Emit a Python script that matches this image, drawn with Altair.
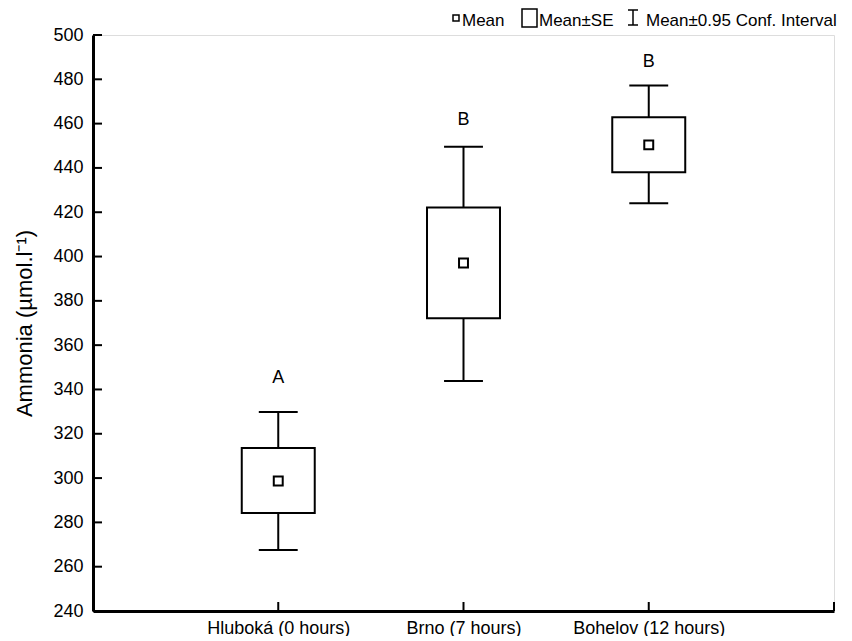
import altair as alt
import pandas as pd

# ---- data ----
sites = ["Hluboká (0 hours)", "Brno (7 hours)", "Bohelov (12 hours)"]
site_pos = [1, 2, 3]
means = [298.7, 397.1, 450.4]
se_low = [284.2, 372.1, 438.1]
se_high = [313.6, 422.1, 462.9]
ci_low = [267.5, 343.8, 424.1]
ci_high = [329.8, 449.6, 477.2]
letters = ["A", "B", "B"]
letter_y = [345.2, 461.7, 487.9]

x_ticks = [1, 2, 3, 4]
y_ticks = [240, 260, 280, 300, 320, 340, 360, 380, 400, 420, 440, 460, 480, 500]

W, H = 741, 576
FONT = "Liberation Sans"
BOX_HALF = 0.197
CAP_HALF = 0.105

df = pd.DataFrame({
    "site": sites, "pos": site_pos, "mean": means,
    "se_low": se_low, "se_high": se_high,
    "ci_low": ci_low, "ci_high": ci_high,
    "letter": letters, "letter_y": letter_y,
})

label_expr = " : ".join(
    f"datum.value == {p} ? '{s}'" for p, s in zip(site_pos, sites)
) + " : ''"

xscale = alt.Scale(domain=[0, 4], nice=False, zero=False)
yscale = alt.Scale(domain=[240, 500], nice=False, zero=False)

x_axis = alt.Axis(values=site_pos, labelExpr=label_expr, title=None, grid=False,
                  ticks=False, domainWidth=3, domainColor="black",
                  labelFont=FONT, labelFontSize=18, labelColor="black",
                  labelPadding=8)
y_axis = alt.Axis(values=y_ticks, title="Ammonia (µmol.l⁻¹)", grid=False,
                  ticks=False, domainWidth=3, domainColor="black",
                  labelFont=FONT, labelFontSize=18, labelColor="black",
                  labelPadding=10, titleFont=FONT, titleFontSize=22,
                  titleFontWeight="normal", titleColor="black", titlePadding=16)

base = alt.Chart(df)

whisker = base.mark_rule(color="black", strokeWidth=2).encode(
    x=alt.X("pos:Q", scale=xscale, axis=x_axis),
    y=alt.Y("ci_low:Q", scale=yscale, axis=y_axis),
    y2="ci_high:Q",
)

caps_hi = base.transform_calculate(
    xa=f"datum.pos - {CAP_HALF}", xb=f"datum.pos + {CAP_HALF}"
).mark_rule(color="black", strokeWidth=2).encode(
    x=alt.X("xa:Q", scale=xscale), x2="xb:Q", y=alt.Y("ci_high:Q", scale=yscale)
)
caps_lo = base.transform_calculate(
    xa=f"datum.pos - {CAP_HALF}", xb=f"datum.pos + {CAP_HALF}"
).mark_rule(color="black", strokeWidth=2).encode(
    x=alt.X("xa:Q", scale=xscale), x2="xb:Q", y=alt.Y("ci_low:Q", scale=yscale)
)

boxes = base.transform_calculate(
    xa=f"datum.pos - {BOX_HALF}", xb=f"datum.pos + {BOX_HALF}"
).mark_rect(fill="white", stroke="black", strokeWidth=2).encode(
    x=alt.X("xa:Q", scale=xscale), x2="xb:Q",
    y=alt.Y("se_low:Q", scale=yscale), y2="se_high:Q",
)

mean_pts = base.mark_square(filled=False, color="black", strokeWidth=2, size=80, opacity=1).encode(
    x=alt.X("pos:Q", scale=xscale), y=alt.Y("mean:Q", scale=yscale)
)

letter_txt = base.mark_text(font=FONT, fontSize=18, color="black", baseline="middle").encode(
    x=alt.X("pos:Q", scale=xscale), y=alt.Y("letter_y:Q", scale=yscale), text="letter:N"
)

xt = alt.Chart(pd.DataFrame({"t": x_ticks})).mark_rule(color="black", strokeWidth=2).encode(
    x=alt.X("t:Q", scale=xscale), y=alt.value(H), y2=alt.value(H - 9)
)
yt = alt.Chart(pd.DataFrame({"t": y_ticks})).mark_rule(color="black", strokeWidth=2).encode(
    y=alt.Y("t:Q", scale=yscale), x=alt.value(0), x2=alt.value(9)
)

# ---- legend drawn at the top right ----
leg_df = pd.DataFrame({"k": [0]})
leg = alt.Chart(leg_df)
LFS = 17
leg_small = leg.mark_square(filled=False, color="black", strokeWidth=1.5, size=36, opacity=1).encode(
    x=alt.value(363), y=alt.value(-17))
leg_t1 = leg.mark_text(font=FONT, fontSize=LFS, align="left", baseline="alphabetic", color="black").encode(
    x=alt.value(369), y=alt.value(-9), text=alt.value("Mean"))
leg_rect = leg.mark_rect(fill="white", stroke="black", strokeWidth=1.5).encode(
    x=alt.value(429), x2=alt.value(444), y=alt.value(-26), y2=alt.value(-8))
leg_t2 = leg.mark_text(font=FONT, fontSize=LFS, align="left", baseline="alphabetic", color="black").encode(
    x=alt.value(446), y=alt.value(-9), text=alt.value("Mean±SE"))
leg_iv = leg.mark_rule(color="black", strokeWidth=1.5).encode(
    x=alt.value(540), y=alt.value(-25), y2=alt.value(-10))
leg_it = leg.mark_rule(color="black", strokeWidth=1.5).encode(
    x=alt.value(535), x2=alt.value(545), y=alt.value(-25))
leg_ib = leg.mark_rule(color="black", strokeWidth=1.5).encode(
    x=alt.value(535), x2=alt.value(545), y=alt.value(-10))
leg_t3 = leg.mark_text(font=FONT, fontSize=LFS, align="left", baseline="alphabetic", color="black").encode(
    x=alt.value(553), y=alt.value(-9), text=alt.value("Mean±0.95 Conf. Interval"))

chart = alt.layer(
    whisker, caps_hi, caps_lo, boxes, mean_pts, letter_txt, xt, yt,
    leg_small, leg_t1, leg_rect, leg_t2, leg_iv, leg_it, leg_ib, leg_t3,
).properties(
    width=W, height=H,
    autosize=alt.AutoSizeParams(type="none"),
    padding={"left": 85, "top": 27, "right": 10, "bottom": 25},
).configure_view(stroke=None).configure(background="white")

chart.save("out.html", embed_options={"renderer": "svg", "actions": False})
